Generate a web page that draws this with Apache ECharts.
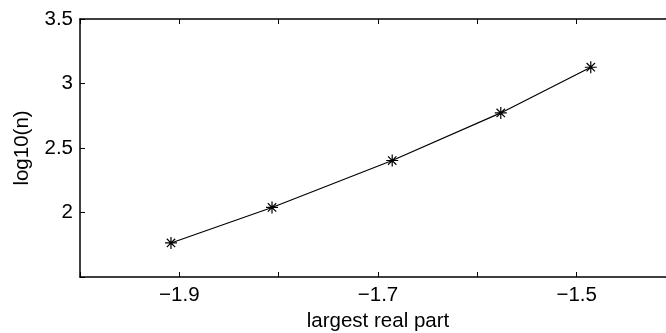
<!DOCTYPE html>
<html>
<head>
<meta charset="utf-8">
<script src="https://cdn.jsdelivr.net/npm/echarts@6/dist/echarts.min.js"></script>
<style>
  html, body { margin: 0; padding: 0; background: #fff; }
  #main { width: 666px; height: 333px; }
</style>
</head>
<body>
<div id="main"></div>
<script>
  // values
  var realPart = [-1.9084, -1.8067, -1.6857, -1.5764, -1.4858];
  var logN = [1.764, 2.039, 2.403, 2.772, 3.126];
  var xTicks = [-1.9, -1.7, -1.5];

  var pts = realPart.map(function (x, i) { return [x, logN[i]]; });
  var star = 'path://M0,-10L0,10M-10,0L10,0M-7,-7L7,7M-7,7L7,-7';
  var font = 'Liberation Sans, Arial, Helvetica, sans-serif';

  var chart = echarts.init(document.getElementById('main'));
  chart.setOption({
    animation: false,
    grid: { left: 80, top: 19, bottom: 56, right: -10, outerBoundsMode: 'none', containLabel: false },
    xAxis: [{
      type: 'value',
      min: -2.0,
      max: -1.4,
      interval: 0.1,
      name: 'largest real part',
      nameLocation: 'middle',
      nameGap: 33,
      nameTextStyle: { color: '#000', fontSize: 20.5, fontFamily: font },
      axisLine: { lineStyle: { color: '#000', width: 1.5 } },
      axisTick: { inside: true, length: 5, lineStyle: { color: '#000' } },
      axisLabel: {
        color: '#000', fontSize: 20.5, fontFamily: font, margin: 8,
        formatter: function (v) {
          var r = Math.round(v * 10) / 10;
          return xTicks.indexOf(r) >= 0 ? '\u2212' + Math.abs(r).toFixed(1) : '';
        }
      },
      splitLine: { show: false }
    }, {
      type: 'value',
      position: 'top',
      min: -2.0,
      max: -1.4,
      interval: 0.1,
      axisLine: { lineStyle: { color: '#000', width: 1.5 } },
      axisTick: { inside: true, length: 5, lineStyle: { color: '#000' } },
      axisLabel: { show: false },
      splitLine: { show: false }
    }],
    yAxis: {
      type: 'value',
      min: 1.5,
      max: 3.5,
      interval: 0.5,
      name: 'log10(n)',
      nameLocation: 'middle',
      nameGap: 47,
      nameTextStyle: { color: '#000', fontSize: 20.5, fontFamily: font },
      axisLine: { show: true, lineStyle: { color: '#000', width: 1.5 } },
      axisTick: { show: true, inside: true, length: 5, lineStyle: { color: '#000' } },
      axisLabel: {
        color: '#000', fontSize: 20.5, fontFamily: font, margin: 7,
        formatter: function (v) { return v === 1.5 ? '' : String(v); }
      },
      splitLine: { show: false }
    },
    series: [{
      type: 'line',
      data: pts,
      symbol: star,
      symbolSize: 12,
      itemStyle: { color: 'none', borderColor: '#000', borderWidth: 1.2 },
      lineStyle: { color: '#000', width: 1.2 }
    }]
  });
</script>
</body>
</html>
